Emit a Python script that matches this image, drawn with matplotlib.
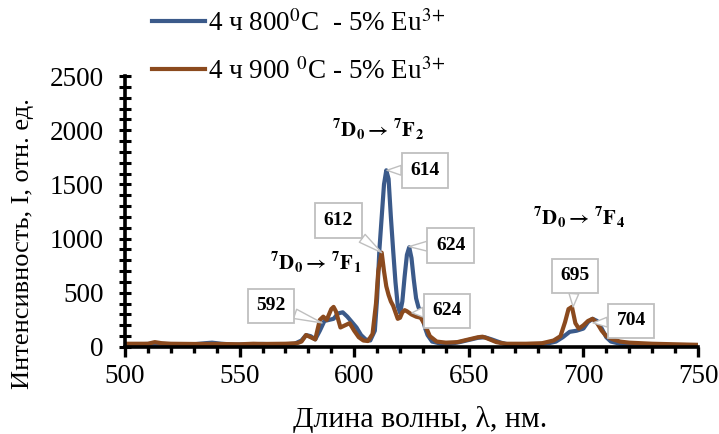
import numpy as np
import matplotlib
matplotlib.use("Agg")
import matplotlib.pyplot as plt
from matplotlib.ticker import MultipleLocator

plt.rcParams['font.family'] = ['Liberation Serif', 'DejaVu Serif']
plt.rcParams['mathtext.fontset'] = 'stix'

# --- data ---
wl_800 = [500, 505, 510, 515, 520, 525, 530, 535, 538, 542, 548, 555, 560, 565, 570,
          574, 577, 579, 581, 583, 585, 587, 589, 591, 593, 595, 597, 599, 601, 603,
          605, 607, 609, 610, 611, 612, 613, 614, 615, 616, 617, 618, 619, 620, 621,
          622, 623, 624, 625, 626, 627, 628, 629, 630, 631, 632, 634, 638, 642, 646,
          650, 654, 657, 660, 664, 668, 675, 680, 685, 688, 691, 694, 697, 700, 702,
          704, 706, 708, 710, 712, 716, 720, 730, 740, 750]
int_800 = [25, 25, 28, 30, 25, 22, 25, 35, 40, 30, 22, 25, 28, 25, 25,
           30, 60, 110, 100, 70, 150, 240, 250, 260, 310, 320, 280, 230, 180, 110,
           70, 60, 150, 450, 900, 1200, 1500, 1630, 1550, 1200, 890, 600, 380, 315, 420,
           650, 850, 920, 820, 620, 450, 370, 320, 250, 170, 110, 50, 30, 30, 45,
           65, 85, 90, 70, 40, 20, 20, 25, 35, 50, 90, 140, 150, 170, 230,
           260, 240, 170, 90, 50, 30, 25, 20, 15, 15]

wl_900 = [500, 505, 510, 513, 516, 520, 530, 540, 550, 556, 560, 570, 575, 577, 579,
          581, 583, 585, 586.5, 588, 590, 591, 592, 594, 596, 598, 600, 602, 604, 606,
          608, 609.5, 610.5, 612, 613, 614, 615, 616, 617, 618, 619, 620, 621, 622, 623,
          625, 627, 629, 631, 633, 636, 640, 645, 650, 654, 656, 658, 662, 666, 675,
          682, 687, 690, 692, 693.5, 695, 696.5, 698, 700, 702, 704, 706, 708, 710,
          713, 716, 720, 730, 740, 750]
int_900 = [30, 30, 30, 45, 35, 30, 28, 28, 25, 30, 28, 30, 35, 50, 110,
           90, 70, 250, 280, 250, 350, 370, 330, 180, 200, 220, 150, 90, 60, 55,
           120, 400, 700, 870, 700, 560, 480, 420, 380, 320, 260, 270, 320, 340, 330,
           300, 280, 270, 200, 100, 50, 40, 45, 70, 90, 95, 80, 45, 30, 30,
           35, 60, 100, 230, 350, 370, 220, 170, 200, 240, 260, 220, 150, 100,
           70, 50, 40, 30, 25, 20]

labels = ['4 ч 800$^{0}$C  - 5% Eu$^{3{+}}$', '4 ч 900 $^{0}$C - 5% Eu$^{3{+}}$']
colors = ['#3B5A8A', '#8B4A1E']

# callouts: text, point on curve, box centre
callouts = [('592', (586, 222), (563.7, 380)),
            ('612', (612, 870), (593, 1167)),
            ('614', (614.3, 1630), (630.9, 1630)),
            ('624', (623.9, 926), (642.2, 935)),
            ('624', (625.2, 315), (640.5, 333)),
            ('695', (695.5, 370), (696.3, 657)),
            ('704', (704.2, 222), (720.8, 241))]

transitions = [(r'$\mathbf{^{7}D_{0}\rightarrow\,^{7}F_{2}}$', 610.4, 2010),
               (r'$\mathbf{^{7}D_{0}\rightarrow\,^{7}F_{1}}$', 583.3, 778),
               (r'$\mathbf{^{7}D_{0}\rightarrow\,^{7}F_{4}}$', 698, 1195)]

fig = plt.figure(figsize=(7.19, 4.34), dpi=100)
ax = fig.add_axes([125/719, 1 - 347/434, (698 - 125)/719, (347 - 76)/434])

ax.plot(wl_800, int_800, color=colors[0], lw=3.0, label=labels[0])
ax.plot(wl_900, int_900, color=colors[1], lw=3.0, label=labels[1])

for txt, tip, box in callouts:
    ax.annotate(txt, xy=tip, xytext=box, ha='center', va='center',
                fontsize=14, fontweight='bold',
                bbox=dict(boxstyle='square,pad=0.45', fc='white', ec='#BFBFBF', lw=1.3),
                arrowprops=dict(arrowstyle='wedge,tail_width=0.5', fc='white',
                                ec='#BFBFBF', lw=1.0, shrinkA=0, shrinkB=0))

for txt, x, y in transitions:
    ax.text(x, y, txt, ha='center', va='center', fontsize=15)

ax.set_xlim(500, 750)
ax.set_ylim(0, 2500)
ax.xaxis.set_major_locator(MultipleLocator(50))
ax.xaxis.set_minor_locator(MultipleLocator(10))
ax.yaxis.set_major_locator(MultipleLocator(500))
ax.yaxis.set_minor_locator(MultipleLocator(100))

for side in ['top', 'right']:
    ax.spines[side].set_visible(False)
for side in ['left', 'bottom']:
    ax.spines[side].set_linewidth(2.6)

ax.tick_params(axis='x', which='major', direction='out', length=7, width=2.4, labelsize=19.5, pad=5)
ax.tick_params(axis='x', which='minor', direction='out', length=4, width=2.4)
ax.tick_params(axis='y', which='major', direction='inout', length=9, width=2.2, labelsize=19.5, pad=11)
ax.tick_params(axis='y', which='minor', direction='inout', length=8, width=2.2)

ax.set_xlabel('Длина волны, λ, нм.', fontsize=21.5)
ax.set_ylabel('Интенсивность, I, отн. ед.', fontsize=19)
ax.xaxis.set_label_coords(0.515, -0.267)
ax.yaxis.set_label_coords(-0.178, 0.38)
ax.xaxis.label.set_va('center')
ax.yaxis.label.set_va('center')

fig.legend(loc='upper left', bbox_to_anchor=(152/719, 1 - 10/434), frameon=False,
           fontsize=19.5, handlelength=1.96, handletextpad=0.12, labelspacing=0.78,
           borderpad=0, borderaxespad=0)

fig.savefig('out.png', dpi=100)
